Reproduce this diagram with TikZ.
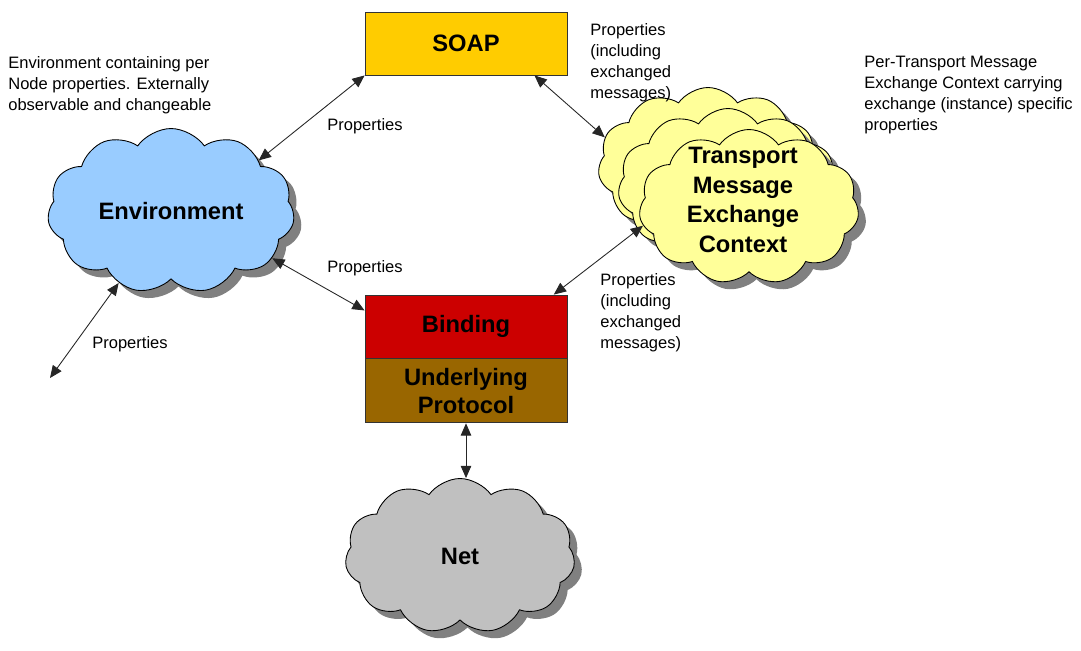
\documentclass[tikz,border=0pt]{standalone}
\usepackage{fontspec}
\setmainfont{Liberation Sans}
\usetikzlibrary{positioning,shapes.symbols,shadows,arrows.meta}
\definecolor{soapc}{HTML}{FFCC00}
\definecolor{bindc}{HTML}{CC0000}
\definecolor{protoc}{HTML}{996600}
\definecolor{envc}{HTML}{99CCFF}
\definecolor{tmec}{HTML}{FFFF99}
\definecolor{netc}{HTML}{C0C0C0}

\begin{document}
\begin{tikzpicture}[x=0.02cm,y=-0.02cm,
  lbl/.style={font=\fontsize{9.4}{11.9}\selectfont,align=left,inner sep=0pt},
  ttl/.style={font=\fontsize{13.5}{17}\selectfont\bfseries,align=center},
  blk/.style={draw=black!80,line width=0.5pt,minimum width=4.04cm,inner sep=0pt},
  puff/.style={cloud,cloud puffs=11,cloud puff arc=110,cloud ignores aspect,inner sep=0pt,draw=black,line width=0.5pt,
    drop shadow={shadow xshift=0.15cm,shadow yshift=-0.15cm,fill=black!50,opacity=1}},
  link/.style={<->,>={Triangle[length=7pt,width=6pt]},draw=black!85,line width=0.5pt}]
\useasboundingbox (0,0) rectangle (1081,650);
\node[blk,fill=soapc,minimum height=1.26cm,ttl] (soap) at (466,43.5) {SOAP};
\node[blk,fill=bindc,minimum height=1.26cm,ttl] (bind) at (466,326.5) {Binding};
\node[blk,fill=protoc,minimum height=1.28cm,ttl,font=\fontsize{13.5}{16}\selectfont\bfseries,below=0pt of bind] (proto) {Underlying\\Protocol};
\node[puff,fill=envc,minimum width=4.94cm,minimum height=3.3cm,ttl] (env) at (171,211) {Environment};
\node[puff,fill=netc,minimum width=4.6cm,minimum height=3.1cm,ttl] (net) at (460,556) {Net};
\node[puff,fill=tmec,minimum width=4.4cm,minimum height=3.1cm] (tmeA) at (708,165) {};
\node[puff,fill=tmec,minimum width=4.4cm,minimum height=3.1cm] (tmeB) at (728,186) {};
\node[puff,fill=tmec,minimum width=4.4cm,minimum height=3.1cm] (tmeC) at (749,207) {};
\node[ttl] (tmetxt) at (743,200) {Transport\\Message\\Exchange\\Context};
\coordinate (free) at (50,378);
\draw[link] (soap.south west) -- (env.30);
\draw[link] (soap.-25) -- (tmeA.165);
\draw[link] (env.-25) -- (bind.171);
\draw[link] (bind.20) -- (tmeC.190);
\draw[link] (env.234) -- (free);
\draw[link] (proto.south) -- (proto.south |- net.north);
\node[lbl,anchor=west] (p1) at (327,126) {Properties};
\node[lbl,anchor=west] (p2) at (327,268) {Properties};
\node[lbl,anchor=west] (p3) at (92,344) {Properties};
\node[lbl,anchor=north west] (p4) at (590,23) {Properties\\(including\\exchanged\\messages)};
\node[lbl,anchor=north west] (p5) at (600,273) {Properties\\(including\\exchanged\\messages)};
\node[lbl,anchor=north west] (envnote) at (8,56) {Environment containing per\\Node properties. Externally\\observable and changeable};
\node[lbl,anchor=north west] (tmenote) at (864,56) {Per-Transport Message\\Exchange Context carrying\\exchange (instance) specific\\properties};
\end{tikzpicture}
\end{document}
